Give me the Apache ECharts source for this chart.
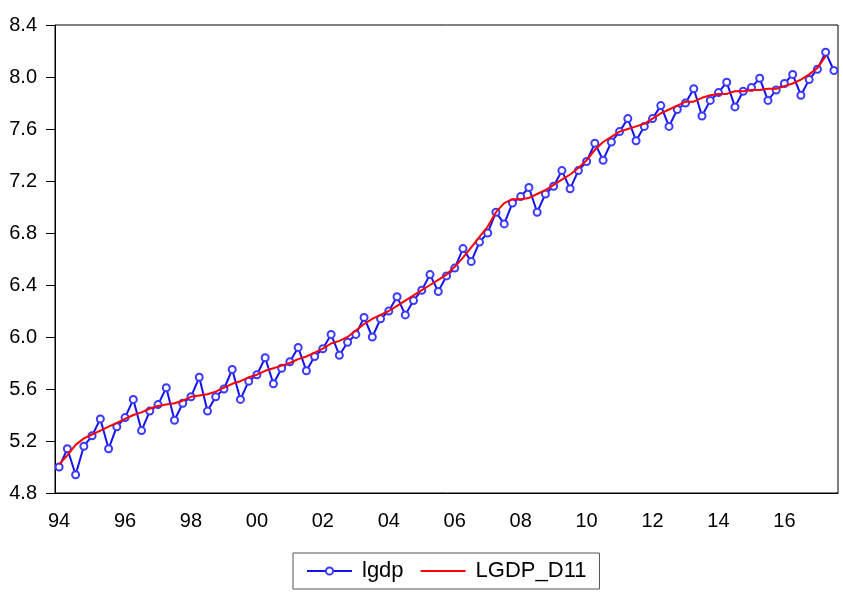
<!DOCTYPE html>
<html>
<head>
<meta charset="utf-8">
<script src="https://cdn.jsdelivr.net/npm/echarts@6/dist/echarts.min.js"></script>
<style>
  html, body { margin: 0; padding: 0; background: #fff; }
  #main { width: 843px; height: 596px; }
</style>
</head>
<body>
<div id="main"></div>
<script>
// quarterly observations, 1994Q1 .. 2017Q3
var startYear = 1994;
var nObs = 95;

var lgdp = [
  5.00, 5.14, 4.94, 5.16, 5.24, 5.37, 5.14, 5.31, 5.38, 5.52,
  5.28, 5.43, 5.48, 5.61, 5.36, 5.49, 5.54, 5.69, 5.43, 5.54,
  5.60, 5.75, 5.52, 5.66, 5.71, 5.84, 5.64, 5.76, 5.81, 5.92,
  5.74, 5.85, 5.91, 6.02, 5.86, 5.96, 6.02, 6.15, 6.00, 6.14,
  6.20, 6.31, 6.17, 6.28, 6.36, 6.48, 6.35, 6.47, 6.53, 6.68,
  6.58, 6.73, 6.80, 6.96, 6.87, 7.03, 7.08, 7.15, 6.96, 7.10,
  7.16, 7.28, 7.14, 7.28, 7.35, 7.49, 7.36, 7.50, 7.58, 7.68,
  7.51, 7.62, 7.68, 7.78, 7.62, 7.75, 7.80, 7.91, 7.70, 7.82,
  7.88, 7.96, 7.77, 7.89, 7.92, 7.99, 7.82, 7.90, 7.95, 8.02,
  7.86, 7.98, 8.06, 8.19, 8.05
];

var lgdpD11 = [
  5.02, 5.09, 5.17, 5.22, 5.25, 5.28, 5.31, 5.34, 5.37, 5.40,
  5.42, 5.45, 5.47, 5.48, 5.49, 5.51, 5.54, 5.55, 5.56, 5.58,
  5.61, 5.64, 5.66, 5.69, 5.71, 5.74, 5.76, 5.78, 5.80, 5.83,
  5.85, 5.88, 5.91, 5.95, 5.97, 6.00, 6.05, 6.10, 6.14, 6.17,
  6.20, 6.24, 6.28, 6.32, 6.36, 6.40, 6.44, 6.48, 6.54, 6.61,
  6.69, 6.77, 6.85, 6.96, 7.03, 7.06, 7.06, 7.07, 7.10, 7.13,
  7.17, 7.21, 7.25, 7.30, 7.36, 7.44, 7.50, 7.54, 7.58, 7.60,
  7.62, 7.64, 7.68, 7.72, 7.75, 7.78, 7.81, 7.81, 7.84, 7.86,
  7.87, 7.87, 7.89, 7.89, 7.90, 7.90, 7.91, 7.91, 7.93, 7.95,
  7.98, 8.02, 8.07, 8.16, null
];

var quarters = [];
for (var i = 0; i < nObs; i++) {
  quarters.push((startYear + Math.floor(i / 4)) + 'Q' + (i % 4 + 1));
}

var yMin = 4.8, yMax = 8.4, yStep = 0.4;

var blue = '#1414f0';
var red = '#ff0000';

var chart = echarts.init(document.getElementById('main'));

var option = {
  animation: false,
  textStyle: { fontFamily: 'Liberation Sans, Arial, sans-serif' },
  grid: {
    left: 55, right: 5, top: 25, bottom: 103,
    show: true, borderColor: '#000', borderWidth: 1
  },
  legend: {
    left: 293, top: 553,
    itemWidth: 45, itemHeight: 9, itemGap: 16,
    padding: [7, 13, 7, 13],
    borderColor: '#555', borderWidth: 1,
    textStyle: { fontSize: 22, color: '#000', padding: [0, 0, 0, 5] },
    data: [
      { name: 'lgdp' },
      { name: 'LGDP_D11', itemStyle: { color: 'rgba(0,0,0,0)', borderWidth: 0, opacity: 0 } }
    ]
  },
  xAxis: [{
    type: 'category',
    data: quarters,
    boundaryGap: true,
    axisLine: { lineStyle: { color: '#000', width: 1 } },
    axisTick: { interval: 0, length: 4, lineStyle: { color: '#000' } },
    axisLabel: {
      interval: 7,
      fontSize: 20, color: '#000', margin: 18,
      formatter: function (v) { return v.slice(2, 4); }
    },
    splitLine: { show: false }
  }, {
    type: 'category',
    data: quarters,
    boundaryGap: true,
    position: 'bottom',
    axisLine: { show: false },
    axisTick: {
      interval: function (idx) { return idx % 4 === 2; },
      length: 8, lineStyle: { color: '#000' }
    },
    axisLabel: { show: false },
    splitLine: { show: false }
  }],
  yAxis: {
    type: 'value',
    min: yMin, max: yMax, interval: yStep,
    axisLine: { show: true, lineStyle: { color: '#000' } },
    axisTick: { show: true, length: 9, lineStyle: { color: '#000' } },
    axisLabel: {
      fontSize: 20, color: '#000', margin: 18,
      formatter: function (v) { return v.toFixed(1); }
    },
    splitLine: { show: false }
  },
  series: [{
    name: 'lgdp',
    type: 'line',
    data: lgdp,
    symbol: 'emptyCircle',
    symbolSize: 7,
    showAllSymbol: true,
    lineStyle: { color: blue, width: 2 },
    itemStyle: { color: '#3b3bff', borderWidth: 1.5 },
    z: 2
  }, {
    name: 'LGDP_D11',
    type: 'line',
    data: lgdpD11,
    symbol: 'none',
    lineStyle: { color: red, width: 2 },
    itemStyle: { color: red },
    z: 3
  }]
};

chart.setOption(option);
</script>
</body>
</html>
